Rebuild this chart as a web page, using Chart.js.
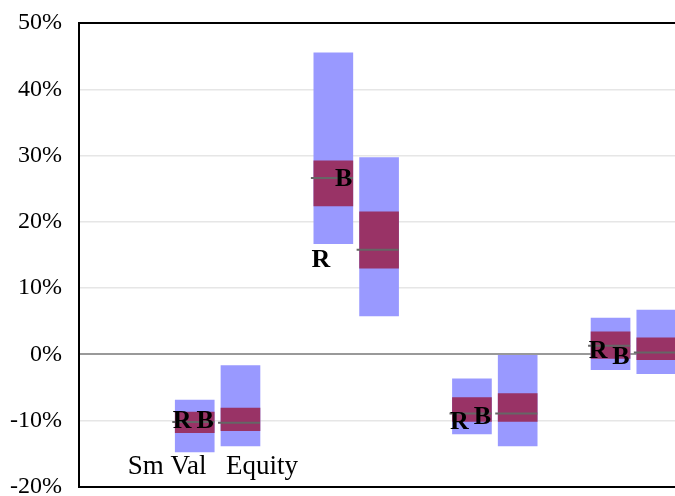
<!DOCTYPE html>
<html>
<head>
<meta charset="utf-8">
<script src="https://cdn.jsdelivr.net/npm/chart.js@4"></script>
<style>
  html, body { margin: 0; padding: 0; background: #fff; overflow: hidden; }
  #wrap { width: 675px; height: 496px; }
</style>
</head>
<body>
<div id="wrap"><canvas id="rangeChart" width="675" height="496"></canvas></div>
<script>
// data (values in %)
const seriesNames = ['Sm Val', 'Equity'];
const groups = [1, 2, 3, 4];

const smValOuter = [[-14.7, -6.9], [16.7, 45.5], [-12.0, -3.7], [-2.3, 5.5]];
const smValInner = [[-11.8, -8.7], [22.4, 29.2], [-10.1, -6.5], [-0.6, 3.4]];
const smValMedian = [-10.2, 26.6, -8.9, 1.3];

const equityOuter = [[-13.8, -1.7], [5.8, 29.7], [-13.8, 0.0], [-2.9, 6.7]];
const equityInner = [[-11.5, -8.1], [13.0, 21.5], [-10.1, -5.9], [-0.8, 2.5]];
const equityMedian = [-10.3, 15.8, -8.9, 0.3];

const rMarks = [-10.0, 14.3, -10.1, 0.7];
const bMarks = [-10.0, 26.6, -9.3, -0.3];

const yTicks = [-20, -10, 0, 10, 20, 30, 40, 50];

const SERIF = '"Liberation Serif", "Times New Roman", serif';
const barShift = 0.165;

const toBars = (sm, eq) => groups.flatMap((g, i) => [
    { x: g - barShift, y: sm[i] },
    { x: g + barShift, y: eq[i] },
]);

const medianPoints = [];
groups.forEach((g, i) => {
    [[g - barShift, smValMedian[i]], [g + barShift, equityMedian[i]]].forEach(([cx, m]) => {
        medianPoints.push({ x: cx - 0.162, y: m }, { x: cx + 0.141, y: m }, { x: cx, y: null });
    });
});

const overlay = {
    id: 'overlay',
    afterDatasetsDraw(chart) {
        const { ctx, chartArea: a, scales: { x, y } } = chart;
        ctx.save();
        // frame: left, top, bottom
        ctx.strokeStyle = '#000';
        ctx.lineWidth = 2;
        ctx.beginPath();
        ctx.moveTo(a.right + 2, a.top);
        ctx.lineTo(a.left, a.top);
        ctx.lineTo(a.left, a.bottom);
        ctx.lineTo(a.right + 2, a.bottom);
        ctx.stroke();

        // R / B markers
        ctx.fillStyle = '#000';
        ctx.font = 'bold 26px ' + SERIF;
        ctx.textAlign = 'center';
        ctx.textBaseline = 'middle';
        chart.data.datasets.forEach((ds, di) => {
            if (!ds.markText) return;
            chart.getDatasetMeta(di).data.forEach(pt => {
                ctx.fillText(ds.markText, pt.x, pt.y + 1);
            });
        });

        // series names under the first group
        ctx.font = '27px ' + SERIF;
        ctx.fillText(seriesNames[0], x.getPixelForValue(0.635), y.getPixelForValue(-17));
        ctx.fillText(seriesNames[1], x.getPixelForValue(1.321), y.getPixelForValue(-17));
        ctx.restore();
    }
};

const ctx = document.getElementById('rangeChart').getContext('2d');
new Chart(ctx, {
    type: 'bar',
    data: {
        datasets: [
            {
                type: 'scatter',
                label: 'R',
                markText: 'R',
                data: groups.map((g, i) => ({ x: g - 0.255, y: rMarks[i] })),
                pointRadius: 0,
                order: 1,
            },
            {
                type: 'scatter',
                label: 'B',
                markText: 'B',
                data: groups.map((g, i) => ({ x: g - 0.09, y: bMarks[i] })),
                pointRadius: 0,
                order: 1,
            },
            {
                type: 'line',
                label: 'Median',
                data: medianPoints,
                borderColor: '#666666',
                borderWidth: 2,
                pointRadius: 0,
                spanGaps: false,
                order: 2,
            },
            {
                label: 'Inner',
                data: toBars(smValInner, equityInner),
                backgroundColor: '#993366',
                barThickness: 39,
                grouped: false,
                borderWidth: 0,
                order: 3,
            },
            {
                label: 'Outer',
                data: toBars(smValOuter, equityOuter),
                backgroundColor: '#9999ff',
                barThickness: 39,
                grouped: false,
                borderWidth: 0,
                order: 4,
            },
        ],
    },
    options: {
        responsive: false,
        animation: false,
        devicePixelRatio: 1,
        layout: { padding: { top: 23, bottom: 9, left: 0, right: 0 } },
        plugins: {
            legend: { display: false },
            tooltip: { enabled: false },
        },
        scales: {
            x: {
                type: 'linear',
                min: 0,
                max: 4.3,
                offset: false,
                display: false,
            },
            y: {
                min: yTicks[0],
                max: yTicks[yTicks.length - 1],
                afterBuildTicks: scale => {
                    scale.ticks = yTicks.map(v => ({ value: v }));
                },
                afterFit: scale => {
                    scale.width = 79;
                    scale.paddingTop = 0;
                    scale.paddingBottom = 0;
                },
                ticks: {
                    padding: 17,
                    color: '#000',
                    font: { family: SERIF, size: 24 },
                    callback: v => v + '%',
                },
                grid: {
                    drawTicks: false,
                    color: c => (c.tick && c.tick.value === 0 ? '#999999' : '#e6e6e6'),
                    lineWidth: c => (c.tick && c.tick.value === 0 ? 2 : 1.5),
                },
                border: { display: false },
            },
        },
    },
    plugins: [overlay],
});
</script>
</body>
</html>
